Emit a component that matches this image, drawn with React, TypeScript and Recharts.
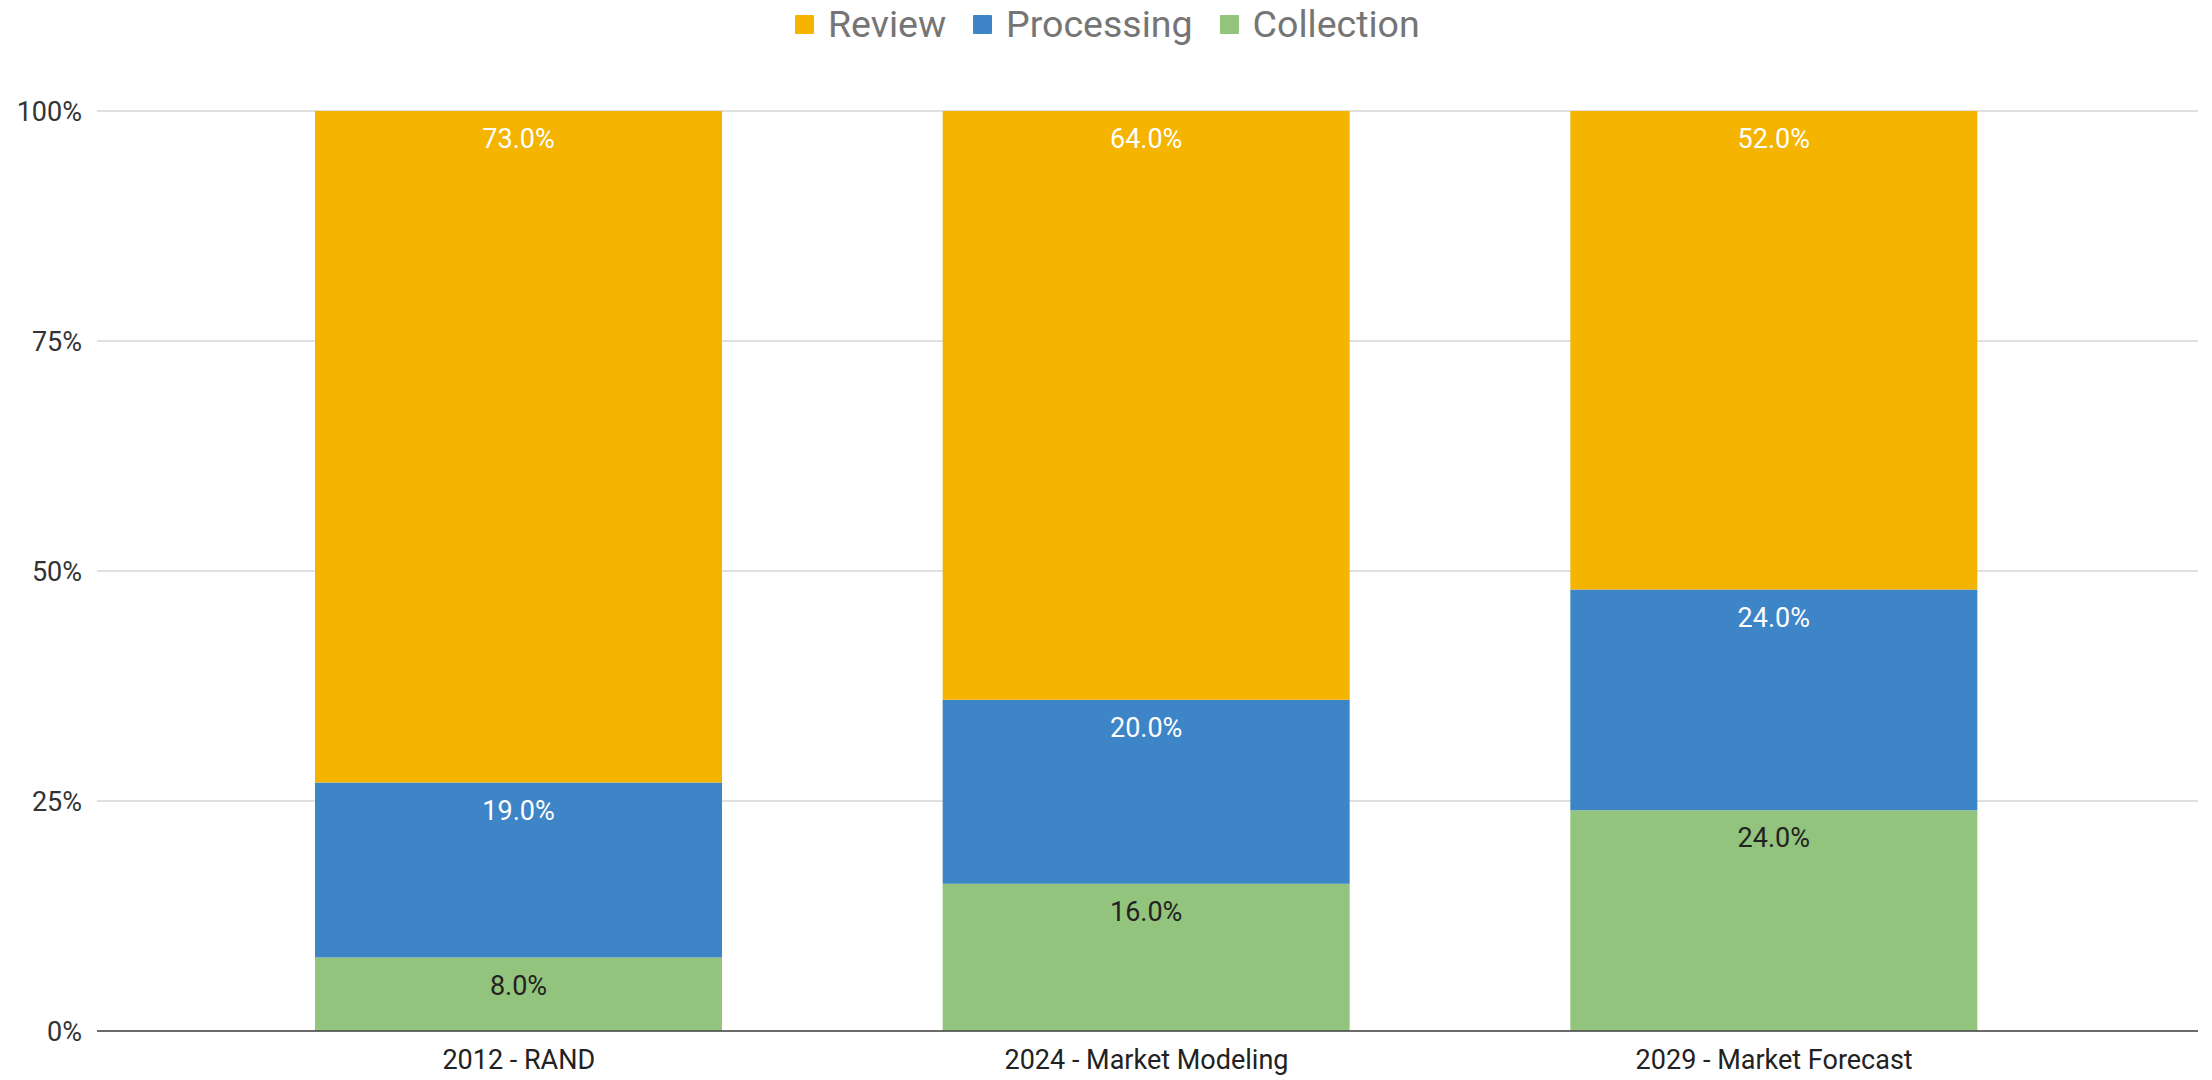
import React from "react";
import { BarChart, Bar, XAxis, YAxis, CartesianGrid, LabelList } from "recharts";

const categories = ["2012 - RAND", "2024 - Market Modeling", "2029 - Market Forecast"];
const collection = [8, 16, 24];
const processing = [19, 20, 24];
const review = [73, 64, 52];
const yTicks = [0, 25, 50, 75, 100];

const series = [
  { key: "collection", name: "Collection", color: "#93c47d", label: "#222222", values: collection },
  { key: "processing", name: "Processing", color: "#3d85c6", label: "#ffffff", values: processing },
  { key: "review", name: "Review", color: "#f4b400", label: "#ffffff", values: review },
];
const legendOrder = ["review", "processing", "collection"];

const data = categories.map((c, i) => {
  const row: Record<string, any> = { category: c };
  series.forEach((s) => (row[s.key] = s.values[i]));
  return row;
});

const FONT = "Roboto, 'Noto Sans', sans-serif";

export default function App() {
  return (
    <div style={{ position: "absolute", left: 0, top: 0, width: 2212, height: 1080, background: "#fff", fontFamily: FONT }}>
      <div
        style={{
          position: "absolute",
          top: 6,
          left: 795,
          display: "flex",
          alignItems: "center",
          height: 37,
          lineHeight: "37px",
          fontSize: 37.5,
          color: "#757575",
          whiteSpace: "nowrap",
        }}
      >
        {legendOrder.map((k, idx) => {
          const s = series.find((x) => x.key === k)!;
          return (
            <div key={k} style={{ display: "flex", alignItems: "center", marginLeft: idx === 0 ? 0 : 27 }}>
              <div style={{ width: 19, height: 19, background: s.color, marginRight: 14, borderRadius: 1 }} />
              <span>{s.name}</span>
            </div>
          );
        })}
      </div>
      <BarChart
        width={2212}
        height={1080}
        data={data}
        margin={{ top: 111, right: 14, bottom: 0, left: 0 }}
        style={{ fontFamily: FONT }}
      >
        <CartesianGrid vertical={false} stroke="#d6d6d6" strokeWidth={1.5} />
        <XAxis
          dataKey="category"
          height={49}
          padding={{ left: 108, right: 110 }}
          tickLine={false}
          tickSize={0}
          tickMargin={19}
          axisLine={{ stroke: "#444", strokeWidth: 1.5 }}
          tick={{ fill: "#222", fontSize: 27 }}
        />
        <YAxis
          width={97}
          domain={[0, 100]}
          ticks={yTicks}
          tickFormatter={(v) => `${v}%`}
          tickLine={false}
          tickSize={0}
          tickMargin={15}
          axisLine={false}
          tick={{ fill: "#333", fontSize: 27 }}
        />
        {series.map((s) => (
          <Bar key={s.key} dataKey={s.key} name={s.name} stackId="a" fill={s.color} barSize={407} isAnimationActive={false}>
            <LabelList
              dataKey={s.key}
              position="insideTop"
              offset={18}
              formatter={(v: any) => `${Number(v).toFixed(1)}%`}
              style={{ fill: s.label, fontSize: 27, fontFamily: FONT }}
            />
          </Bar>
        ))}
      </BarChart>
    </div>
  );
}
